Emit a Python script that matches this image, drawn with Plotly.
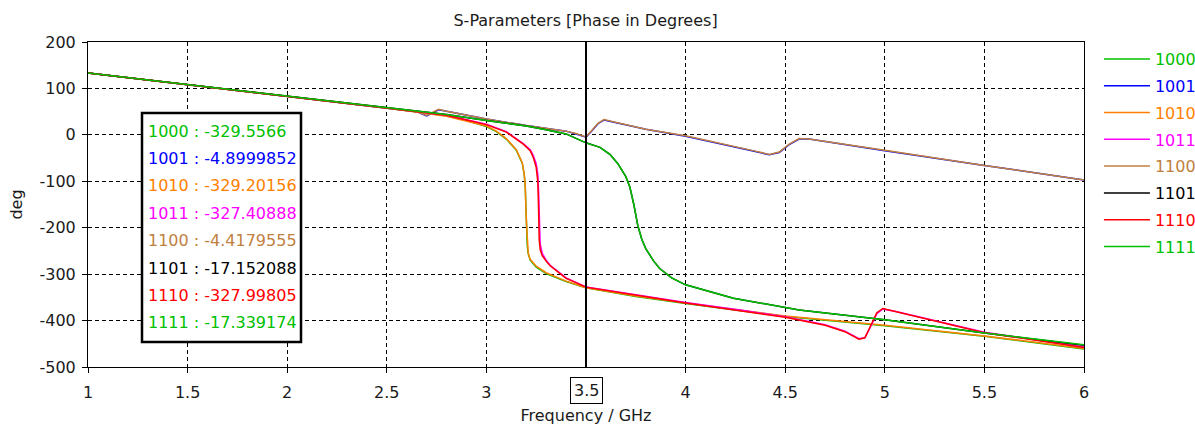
import plotly.graph_objects as go

# Frequency grids (GHz) for each family of curves
F_A = [1.0, 1.5, 2.0, 2.5, 2.65, 2.70, 2.73, 2.76, 2.80, 3.0, 3.2, 3.4, 3.45, 3.5,
       3.53, 3.56, 3.59, 3.7, 3.8, 4.0, 4.2, 4.35, 4.42, 4.47, 4.52, 4.57, 4.62,
       4.8, 5.0, 5.5, 6.0]
F_B = [1.0, 1.5, 2.0, 2.5, 2.8, 2.9, 3.0, 3.05, 3.1, 3.15, 3.18, 3.19, 3.195, 3.2,
       3.205, 3.21, 3.22, 3.25, 3.3, 3.4, 3.5, 3.75, 4.0, 4.5, 5.0, 5.5, 6.0]
F_C = [1.0, 1.5, 2.0, 2.5, 2.8, 3.0, 3.1, 3.185, 3.22, 3.235, 3.25, 3.258, 3.262,
       3.265, 3.27, 3.28, 3.3, 3.32, 3.4, 3.5, 4.0, 4.3, 4.5, 4.7, 4.8, 4.87, 4.9,
       4.93, 4.96, 4.99, 5.05, 5.2, 5.5, 6.0]
F_D = [1.0, 1.5, 2.0, 2.5, 2.8, 3.0, 3.2, 3.3, 3.4, 3.5, 3.57, 3.62, 3.66, 3.7,
       3.72, 3.74, 3.76, 3.78, 3.80, 3.84, 3.87, 3.93, 4.0, 4.24, 4.57, 5.0, 5.5, 6.0]

# Phase (deg) of each state
P_1000 = [133, 108, 84, 58, 41, 31, 18, 7, -9, -33, -61, -86, -112, -185, -238,
          -256, -270, -285, -299, -316, -329.5566, -348, -363, -391, -411, -434, -461]
P_1001 = [133, 108, 84, 59, 50, 41, 47, 54, 51, 34, 20, 8, 2, -4.8999852, 9, 24,
          32, 22, 12, -3, -21, -36, -43, -38, -21, -9, -9, -21, -34, -66, -97]
P_1010 = [133, 108, 84, 58, 40, 30, 19, 8, -8, -32, -60, -85, -110, -180, -235,
          -255, -268, -283, -297, -315, -329.20156, -347, -362, -390, -410, -433, -460]
P_1011 = [133, 108, 84, 58, 42, 23, 7, -19, -32, -44, -62, -85, -120, -180, -235,
          -255, -270, -281, -308, -327.40888, -361, -379, -392, -409, -423, -439,
          -437, -412, -385, -375, -380, -395, -425, -457]
P_1100 = [133, 108, 84, 59, 50, 42, 48, 55, 51, 34, 20, 8, 3, -4.4179555, 10, 25,
          33, 22, 12, -2, -20, -35, -42, -37, -20, -8, -9, -20, -33, -66, -97]
P_1101 = [133, 108, 84, 58, 44, 31, 19, 11, 2, -17.152088, -27, -42, -62, -90,
          -112, -150, -195, -225, -245, -272, -288, -308, -323, -352, -377, -398, -427, -453]
P_1110 = [133, 108, 84, 58, 42, 22, 6, -20, -34, -48, -70, -100, -160, -225, -247,
          -260, -272, -282, -309, -327.99805, -362, -380, -393, -410, -424, -440,
          -437, -410, -383, -374, -380, -395, -426, -458]
P_1111 = [133, 108, 84, 58, 44, 31, 19, 11, 2, -17.339174, -27, -42, -62, -90,
          -112, -150, -195, -225, -245, -272, -288, -308, -323, -352, -377, -398, -427, -452]

STATES = ["1000", "1001", "1010", "1011", "1100", "1101", "1110", "1111"]
FREQS = [F_B, F_A, F_B, F_C, F_A, F_D, F_C, F_D]
PHASES = [P_1000, P_1001, P_1010, P_1011, P_1100, P_1101, P_1110, P_1111]
COLORS = ["#00c000", "#0000ff", "#ff8000", "#ff00ff", "#c08040", "#000000",
          "#ff0000", "#00c000"]

X_TICKS = [1, 1.5, 2, 2.5, 3, 4, 4.5, 5, 5.5, 6]
Y_TICKS = [200, 100, 0, -100, -200, -300, -400, -500]
MARKER_F = 3.5

FONT = "DejaVu Sans"
TXT = "#1a1a1a"

fig = go.Figure()
for name, f, p, c in zip(STATES, FREQS, PHASES, COLORS):
    fig.add_trace(go.Scatter(
        x=f, y=p, mode="lines", line=dict(color=c, width=1.5),
        name=f"<span style='color:{c}'>{name}</span>", legendgroup=name,
    ))

# Plot-area geometry in pixels, used to place the readout box
L, T, R, B = 88, 42, 1084, 367
W, H = R - L, B - T
def px(xp):
    return (xp - L) / W
def py(yp):
    return (B - yp) / H

# Marker line at the readout frequency, with its boxed axis label
fig.add_shape(type="line", xref="x", yref="paper", x0=MARKER_F, x1=MARKER_F,
              y0=0, y1=1, line=dict(color="black", width=2))
fig.add_annotation(x=MARKER_F, xref="x", y=py(390), yref="paper", text=str(MARKER_F),
                   showarrow=False, yanchor="middle",
                   font=dict(family=FONT, size=16, color=TXT),
                   bordercolor="black", borderwidth=1, borderpad=3, bgcolor="white")

# Marker readout box
fig.add_shape(type="rect", xref="paper", yref="paper",
              x0=px(142), x1=px(301), y0=py(342), y1=py(113),
              line=dict(color="black", width=2.5), fillcolor="white", layer="above")
for i, (name, f, p, c) in enumerate(zip(STATES, FREQS, PHASES, COLORS)):
    val = p[f.index(MARKER_F)]
    fig.add_annotation(xref="paper", yref="paper", x=px(146), y=py(131 + i * 27.4),
                       xanchor="left", yanchor="middle", showarrow=False,
                       text=f"{name} : {val}",
                       font=dict(family=FONT, size=16, color=c))

axis_common = dict(
    showline=True, linecolor="black", linewidth=1, mirror=True,
    showgrid=True, gridcolor="black", gridwidth=1, griddash="4px,3px",
    ticks="outside", ticklen=5, tickcolor="black", zeroline=False,
    tickfont=dict(family=FONT, size=16, color=TXT),
)

fig.update_layout(
    width=1195, height=425,
    margin=dict(l=L, r=1195 - R, t=T, b=425 - B, autoexpand=False),
    paper_bgcolor="white", plot_bgcolor="white",
    title=dict(text="S-Parameters [Phase in Degrees]", x=0.49, xanchor="center",
               y=1 - 20 / 425, yanchor="middle",
               font=dict(family=FONT, size=16, color=TXT)),
    xaxis=dict(range=[1, 6], tickvals=X_TICKS, ticklabelstandoff=6,
               title=dict(text="Frequency / GHz", standoff=14,
                          font=dict(family=FONT, size=16, color=TXT)),
               **axis_common),
    yaxis=dict(range=[-500, 200], tickvals=Y_TICKS,
               ticktext=[str(v) for v in Y_TICKS], ticklabelstandoff=3,
               title=dict(text="deg", standoff=12,
                          font=dict(family=FONT, size=16, color=TXT)),
               **axis_common),
    legend=dict(x=1.015, xanchor="left", y=1.0, yanchor="top", itemwidth=46,
                font=dict(family=FONT, size=16), tracegroupgap=3,
                bgcolor="rgba(0,0,0,0)"),
    showlegend=True,
)

fig.write_html("out.html")
